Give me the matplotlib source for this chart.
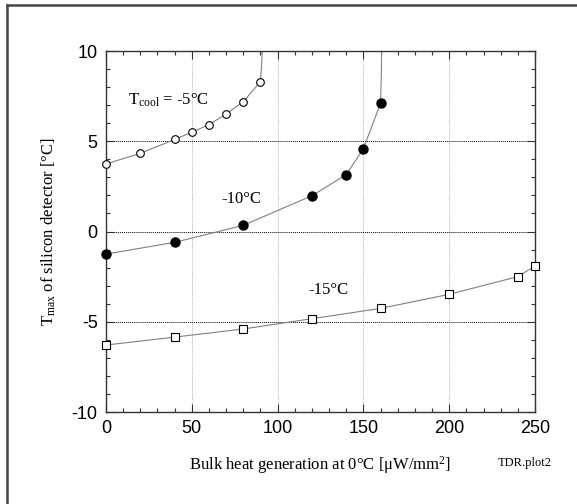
"""
Max silicon detector temperature vs bulk heat generation (TDR.plot2).
"""

import matplotlib
matplotlib.use("Agg")
import matplotlib.pyplot as plt
from matplotlib.lines import Line2D
from matplotlib.ticker import MultipleLocator

plt.rcParams["mathtext.fontset"] = "custom"
plt.rcParams["mathtext.rm"] = "Liberation Serif"
plt.rcParams["mathtext.it"] = "Liberation Serif:italic"
plt.rcParams["axes.unicode_minus"] = False

# Data
heat_m5 = [0, 20, 40, 50, 60, 70, 80, 90]
tmax_m5 = [3.74, 4.33, 5.10, 5.50, 5.92, 6.51, 7.19, 8.30]
tail_m5_x = [90, 90.7, 91]          # curve runs off to the top
tail_m5_y = [8.30, 9.3, 10]

heat_m10 = [0, 40, 80, 120, 140, 150, 160]
tmax_m10 = [-1.25, -0.60, 0.34, 1.98, 3.15, 4.59, 7.10]
tail_m10_x = [160, 160.5, 160.6]
tail_m10_y = [7.10, 8.8, 10]

heat_m15 = [0, 40, 80, 120, 160, 200, 240, 250]
tmax_m15 = [-6.29, -5.85, -5.40, -4.83, -4.26, -3.48, -2.50, -1.91]

serif = ["Liberation Serif", "DejaVu Serif"]
sans = ["Liberation Sans", "DejaVu Sans"]

fig = plt.figure(figsize=(5.77, 5.04), dpi=100)
ax = fig.add_axes([0.1837, 0.1825, 0.7435, 0.7163])

line_kw = dict(color="#808080", lw=0.8, zorder=2)

# -5 C, open circles
ax.plot(heat_m5, tmax_m5, **line_kw)
ax.plot(tail_m5_x, tail_m5_y, **line_kw)
ax.plot(heat_m5, tmax_m5, "o", ms=5.5, mfc="white", mec="black", mew=0.8,
        ls="none", zorder=3, clip_on=False)

# -10 C, filled circles
ax.plot(heat_m10, tmax_m10, **line_kw)
ax.plot(tail_m10_x, tail_m10_y, **line_kw)
ax.plot(heat_m10, tmax_m10, "o", ms=6.5, mfc="black", mec="black",
        ls="none", zorder=3, clip_on=False)

# -15 C, open squares
ax.plot(heat_m15, tmax_m15, **line_kw)
ax.plot(heat_m15, tmax_m15, "s", ms=5.5, mfc="white", mec="black", mew=0.8,
        ls="none", zorder=3, clip_on=False)

ax.set_xlim(0, 250)
ax.set_ylim(-10, 10)

# grid
for xv in [50, 100, 150, 200]:
    ax.axvline(xv, color="#999999", lw=0.6, ls=(0, (1, 1.5)), zorder=1)
for yv in [-5, 0, 5]:
    ax.axhline(yv, color="black", lw=0.7, ls=(0, (1, 1)), zorder=1)

ax.xaxis.set_major_locator(MultipleLocator(50))
ax.xaxis.set_minor_locator(MultipleLocator(10))
ax.yaxis.set_major_locator(MultipleLocator(5))
ax.yaxis.set_minor_locator(MultipleLocator(1))
ax.tick_params(which="both", direction="in", top=True, right=True,
               width=0.8, color="#333333")
ax.tick_params(which="major", length=6, labelsize=13, pad=6)
ax.tick_params(which="minor", length=3)
for lab in ax.get_xticklabels() + ax.get_yticklabels():
    lab.set_family(sans)
for sp in ax.spines.values():
    sp.set_linewidth(1.0)
    sp.set_color("#333333")

ax.set_xlabel("Bulk heat generation at 0°C [μW/mm$^2$]", family=serif,
              fontsize=12, labelpad=12)
ax.set_ylabel("T$_{\\rm max}$ of silicon detector [°C]", family=serif,
              fontsize=12, labelpad=10)

ax.text(13, 7.28, "T$_{\\rm cool}$ = -5°C", family=serif, fontsize=12,
        va="center", ha="left")
ax.text(67.5, 1.8, "-10°C", family=serif, fontsize=12, va="center", ha="left")
ax.text(118, -3.24, "-15°C", family=serif, fontsize=12, va="center", ha="left")

fig.text(0.91, 0.081, "TDR.plot2", family=serif, fontsize=9,
         ha="center", va="center")

# outer frame (only left and top visible)
fig.add_artist(Line2D([0.0115, 0.0115], [0, 0.99], color="#444444", lw=1.8))
fig.add_artist(Line2D([0.0115, 1.0], [0.99, 0.99], color="#444444", lw=1.8))

fig.savefig("out.png", dpi=100)
